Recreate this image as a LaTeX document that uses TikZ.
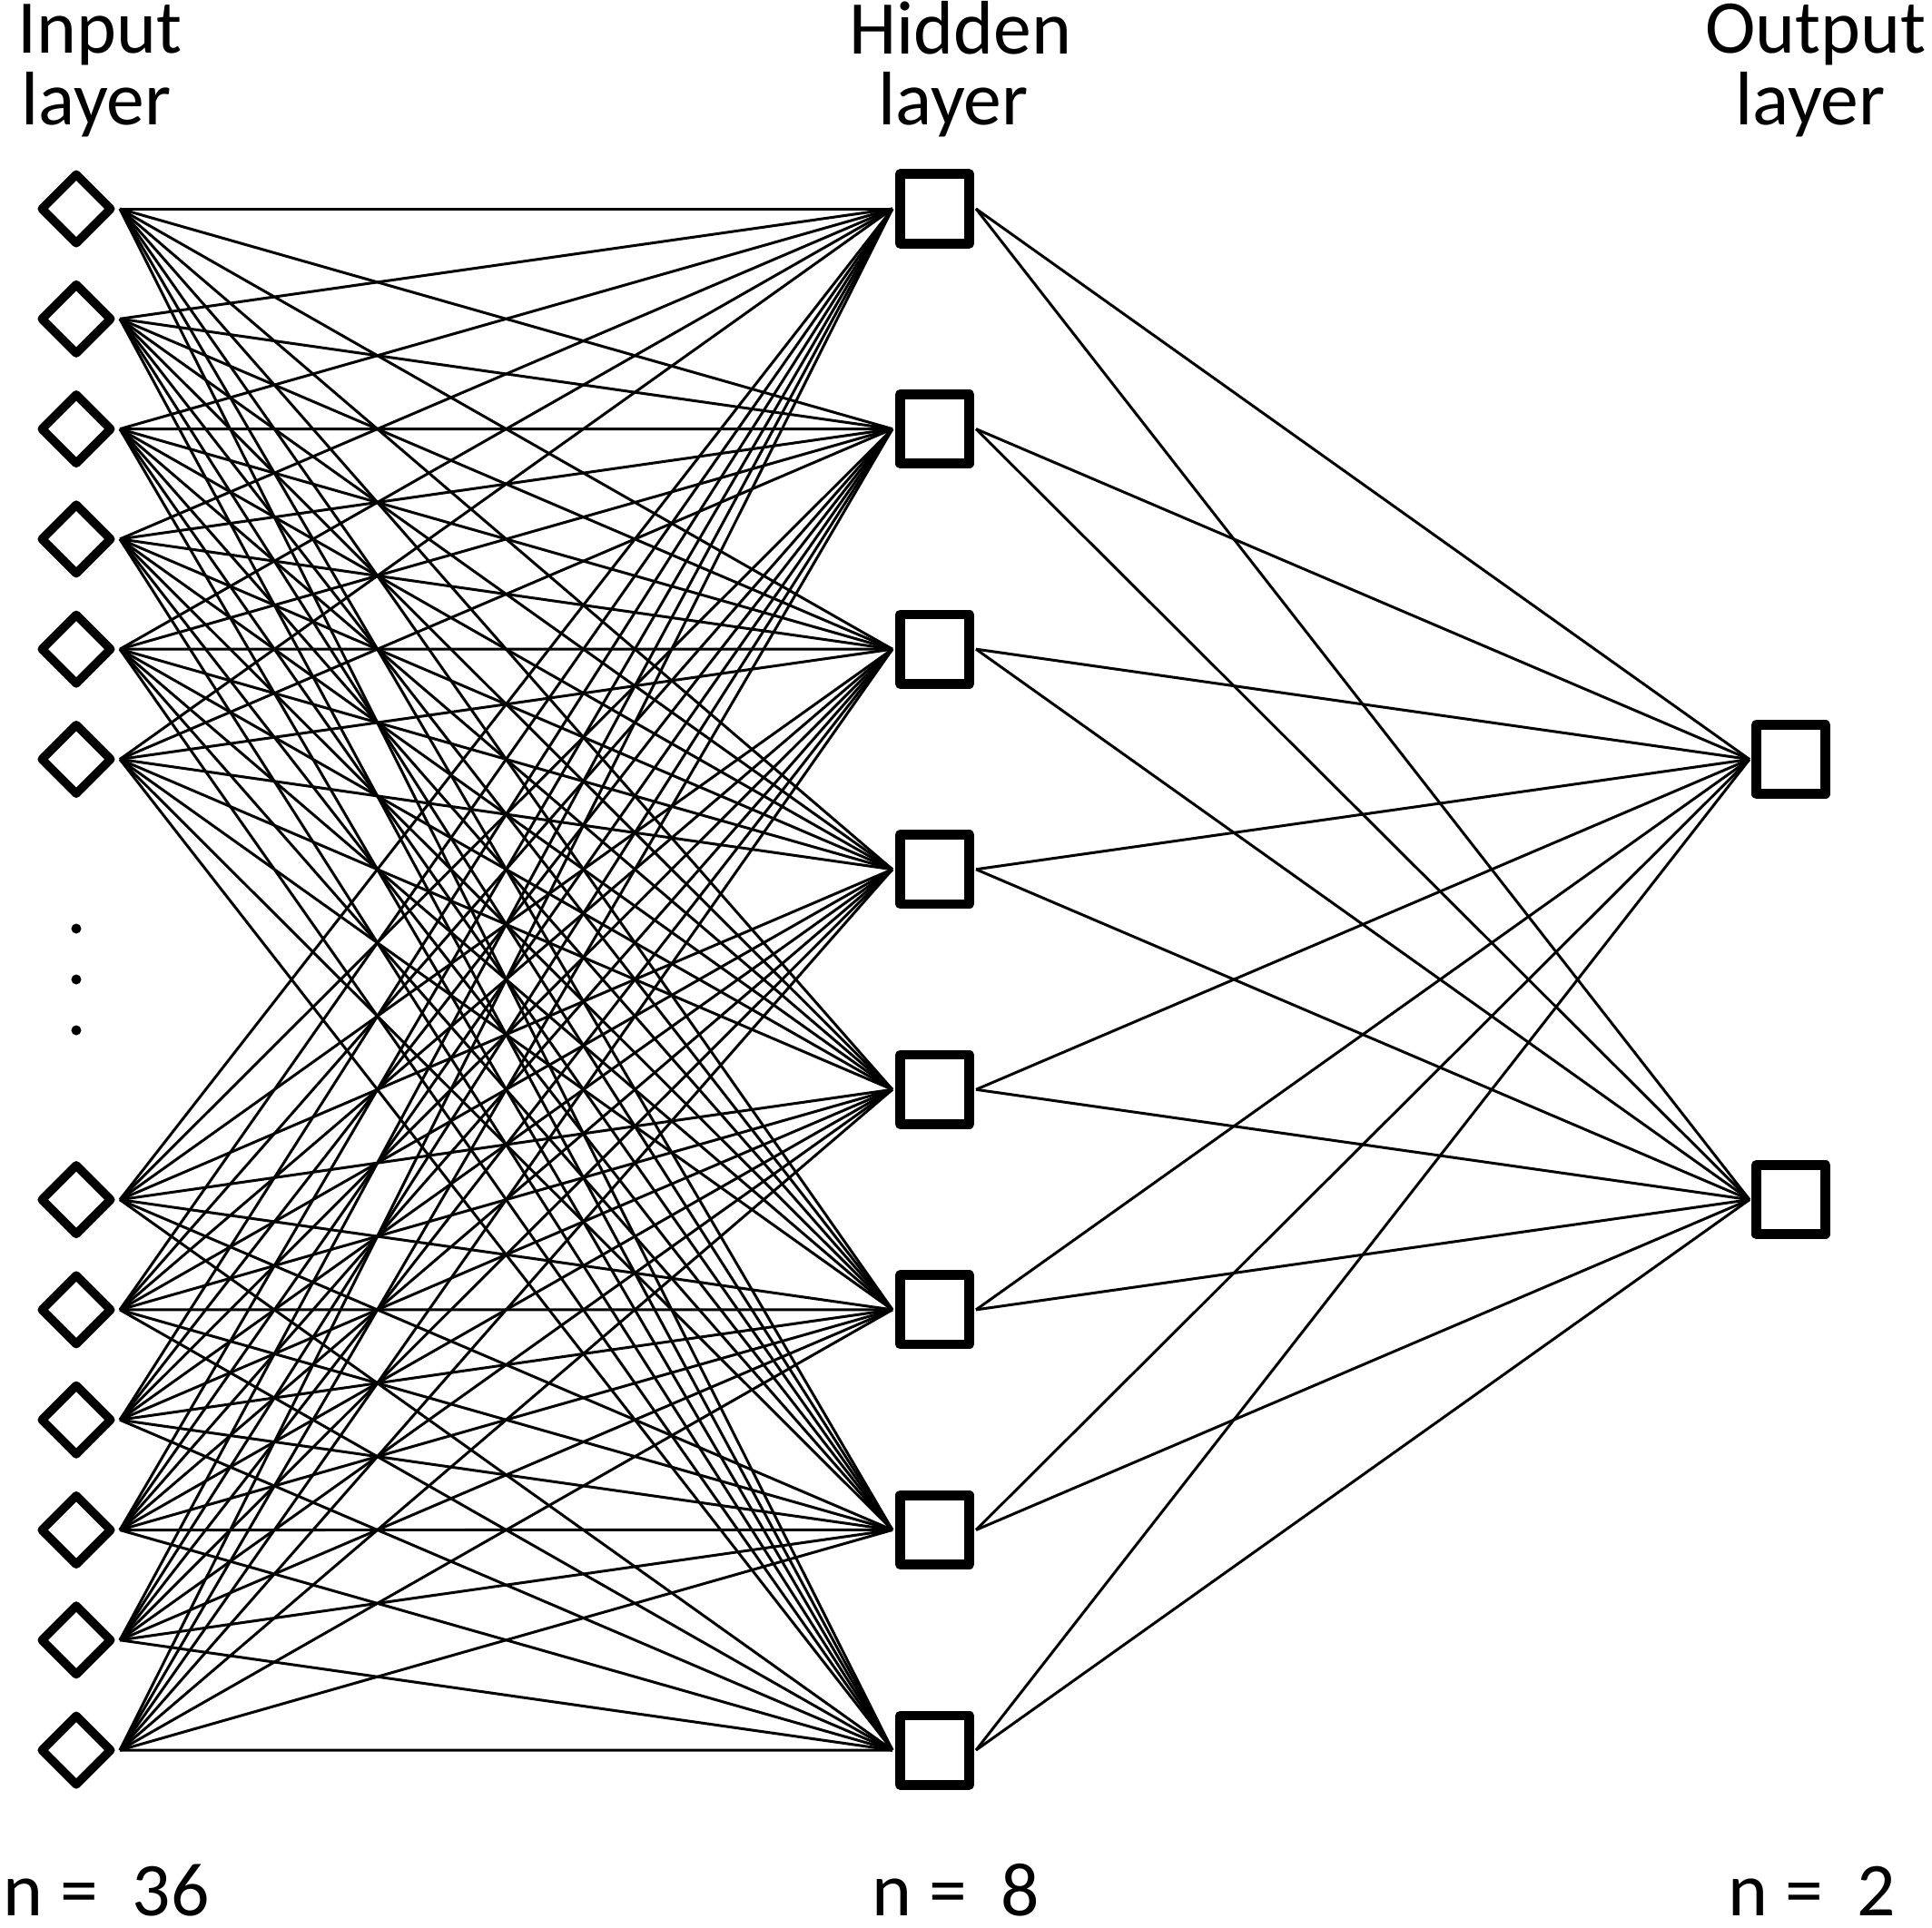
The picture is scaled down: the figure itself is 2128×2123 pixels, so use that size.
\documentclass[tikz,border=0pt]{standalone}
\usepackage{fontspec}
\setmainfont{Carlito}
\usetikzlibrary{shapes.geometric}
\begin{document}
\begin{tikzpicture}[x=0.01cm,y=-0.01cm,
  inp/.style={draw, shape=diamond, aspect=1, minimum width=0.755cm, minimum height=0.755cm, inner sep=0pt, outer sep=0pt, line width=0.95mm, line join=round},
  neuron/.style={draw, rectangle, minimum size=0.763cm, inner sep=0pt, outer sep=0pt, line width=1.07mm, line join=round},
  conn/.style={line width=0.85pt},
  lbl/.style={font=\fontsize{23.8pt}{22.5pt}\selectfont, anchor=base, inner sep=0pt},
  dotn/.style={circle, fill, minimum size=0.11cm, inner sep=0pt}]
\useasboundingbox (0,0) rectangle (2128,2123);
% input nodes
\foreach \k [count=\i] in {0,1,2,3,4,5,9,10,11,12,13,14}
  \node[inp] (in\i) at (84,{230+\k*121.29}) {};
% hidden nodes
\foreach \j in {1,...,8}
  \node[neuron] (h\j) at (1029.5,{230+(\j-1)*242.57}) {};
% output nodes
\node[neuron] (o1) at (1972.5,836.5) {};
\node[neuron] (o2) at (1972.5,1321.6) {};
% dots
\node[dotn] (d1) at (84,1023) {};
\node[dotn] (d2) at (84,1079) {};
\node[dotn] (d3) at (84,1135) {};
% connectors
\foreach \i in {1,...,12}
  \foreach \j in {1,...,8}
    \draw[conn] ([xshift=0.1025cm]in\i.east) -- ([xshift=-0.084cm]h\j.west);
\foreach \j in {1,...,8}
  \foreach \k in {1,2}
    \draw[conn] ([xshift=0.0735cm]h\j.east) -- ([xshift=-0.0735cm]o\k.west);
% labels
\node[lbl] (t1a) at (110,58) {Input};
\node[lbl] (t1b) at (106,137) {layer};
\node[lbl] (t2a) at (1058,59) {Hidden};
\node[lbl] (t2b) at (1050,137) {layer};
\node[lbl] (t3a) at (2000,58) {Output};
\node[lbl] (t3b) at (1994,137) {layer};
\node[lbl] (b1) at (117,2110) {n = \ 36};
\node[lbl] (b2) at (1053,2110) {n = \ 8};
\node[lbl] (b3) at (1996,2110) {n = \ 2};
\end{tikzpicture}
\end{document}
